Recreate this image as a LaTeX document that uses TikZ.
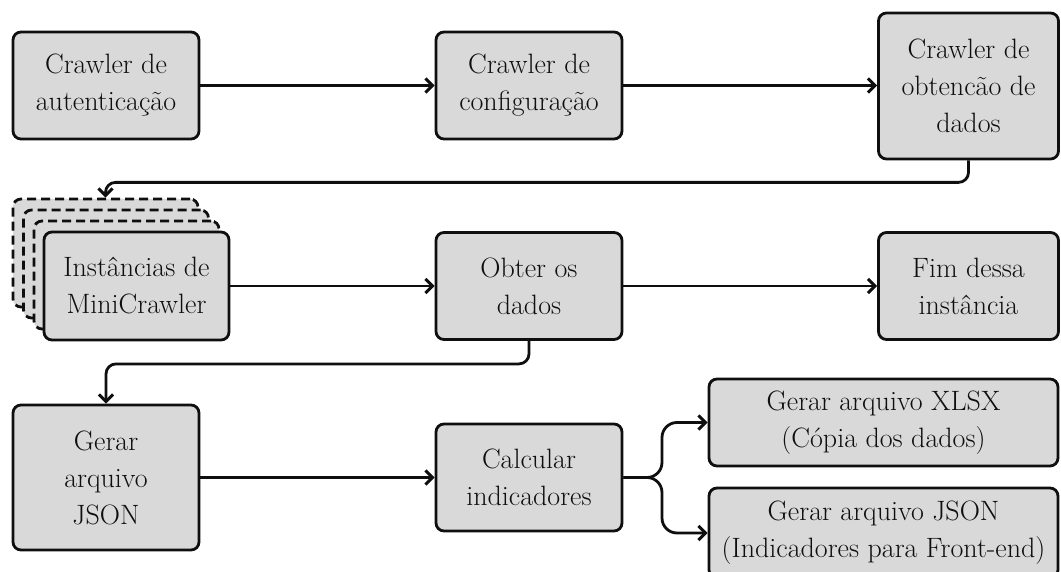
\documentclass[tikz,border=0pt]{standalone}
\usepackage{fontspec}
\usetikzlibrary{arrows.meta}
\definecolor{boxfill}{RGB}{217,217,217}
\definecolor{ink}{RGB}{15,15,15}
\begin{document}
\begin{tikzpicture}[x=1pt,y=-1pt,
 box/.style={draw=ink, fill=boxfill, line width=2.8pt, rounded corners=8pt, align=center, inner sep=0pt, font=\rmfamily\fontsize{28}{37}\selectfont, text=ink},
 ghost/.style={box, dash pattern=on 9pt off 5pt, minimum width=185pt, minimum height=108pt},
 conn/.style={draw=ink, line width=2.8pt, -{Straight Barb[length=7pt,width=14pt,line width=3pt]}},
]
\useasboundingbox (0,0) rectangle (1061,572);
\clip (0,0) rectangle (1061,572);
% row 1
\node[box, minimum width=186pt, minimum height=107pt] (b1) at (106,85.5) {Crawler de\\autenticação};
\node[box, minimum width=186pt, minimum height=107pt] (b2) at (529,85.5) {Crawler de\\configuração};
\node[box, minimum width=180pt, minimum height=146pt] (b3) at (968.5,86) {Crawler de\\obtencão de\\dados};
% row 2
\node[ghost] (d3) at (105.5,253) {};
\node[ghost] (d2) at (116,264) {};
\node[ghost] (d1) at (126.5,275) {};
\node[box, minimum width=185pt, minimum height=108pt] (mc) at (136.5,286) {Instâncias de\\MiniCrawler};
\node[box, minimum width=186pt, minimum height=107pt] (ob) at (529,286) {Obter os\\dados};
\node[box, minimum width=180pt, minimum height=107pt] (fim) at (968.5,286) {Fim dessa\\instância};
% row 3
\node[box, minimum width=186pt, minimum height=145pt] (gj) at (106,477.5) {Gerar\\arquivo\\JSON};
\node[box, minimum width=186pt, minimum height=107pt] (calc) at (529,477.5) {Calcular\\indicadores};
\node[box, minimum width=349pt, minimum height=87pt] (xlsx) at (883.5,422.5) {Gerar arquivo XLSX\\(Cópia dos dados)};
\node[box, minimum width=349pt, minimum height=90pt] (json) at (883.5,533) {Gerar arquivo JSON\\(Indicadores para Front-end)};
% connectors
\draw[conn] (b1) -- (b2);
\draw[conn] (b2.east) -- (b2.east -| b3.west);
\draw[conn, rounded corners=10pt] (b3.south) -- ++(0,22) -| (d3.north);
\draw[conn] (mc) -- (ob);
\draw[conn] (ob) -- (fim);
\draw[conn, rounded corners=10pt] (ob.south) -- ++(0,23) -| (gj.north);
\draw[conn] (gj) -- (calc);
\draw[conn, rounded corners=15pt] (calc.east) -- (662,477.5) |- (xlsx.west);
\draw[conn, rounded corners=15pt] (calc.east) -- (662,477.5) |- (json.west);
\end{tikzpicture}
\end{document}
